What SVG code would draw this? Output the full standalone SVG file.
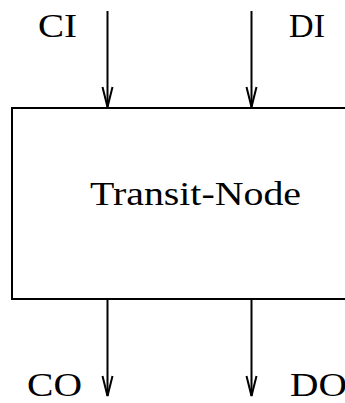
<svg xmlns="http://www.w3.org/2000/svg" width="345" height="403" viewBox="0 0 345 403">
  <style>
    .ln { stroke: #000; stroke-width: 2; fill: none; }
    .lbl { font-family: "Liberation Serif", "DejaVu Serif", serif; font-size: 34px; fill: #000; }
  </style>
  <defs>
    <!-- open arrowhead, drawn along +x and rotated with the line -->
    <marker id="arr" markerUnits="userSpaceOnUse" markerWidth="24" markerHeight="14" refX="21" refY="6" orient="auto" viewBox="0 0 24 12">
      <path d="M1,1 L21,6 L1,11" fill="none" stroke="#000" stroke-width="2"/>
    </marker>
  </defs>
  <rect width="345" height="403" fill="#fff"/>

  <g id="transit-node">
    <path class="ln" d="M346,108 H12 V299 H346"/>
    <text class="lbl" x="90" y="205" textLength="211" lengthAdjust="spacingAndGlyphs">Transit-Node</text>
  </g>

  <g id="connectors">
    <line class="ln" x1="107.5" y1="11" x2="107.5" y2="107" marker-end="url(#arr)"/>
    <line class="ln" x1="251.5" y1="11" x2="251.5" y2="107" marker-end="url(#arr)"/>
    <line class="ln" x1="107.5" y1="299" x2="107.5" y2="396" marker-end="url(#arr)"/>
    <line class="ln" x1="251.5" y1="299" x2="251.5" y2="396" marker-end="url(#arr)"/>
  </g>

  <g id="ports">
    <text class="lbl" x="38" y="37" textLength="39" lengthAdjust="spacingAndGlyphs">CI</text>
    <text class="lbl" x="289" y="37" textLength="36" lengthAdjust="spacingAndGlyphs">DI</text>
    <text class="lbl" x="27" y="396" textLength="55" lengthAdjust="spacingAndGlyphs">CO</text>
    <text class="lbl" x="290" y="396" textLength="57" lengthAdjust="spacingAndGlyphs">DO</text>
  </g>
</svg>
